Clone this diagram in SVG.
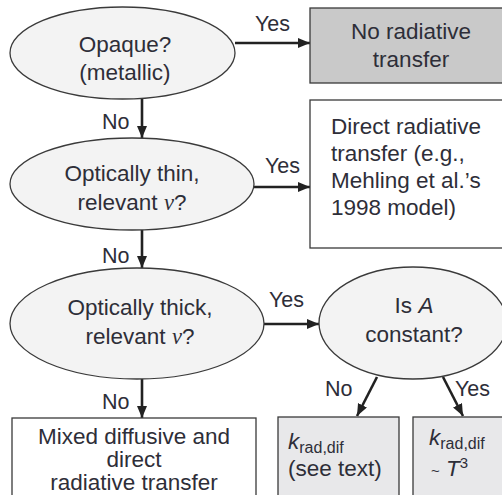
<svg xmlns="http://www.w3.org/2000/svg" width="502" height="495" viewBox="0 0 502 495">
<defs>
<style>
.el{fill:#f3f3f3;stroke:#3a3a3a;stroke-width:1.3}
.bx{stroke:#3a3a3a;stroke-width:1.3}
.t{font-family:"Liberation Sans",Arial,sans-serif;font-size:22.5px;fill:#2e2e38}
.lb{font-family:"Liberation Sans",Arial,sans-serif;font-size:21.5px;fill:#2e2e38}
.m{text-anchor:middle}
.g{font-family:"Liberation Serif","Times New Roman",serif;font-style:italic}
.c{stroke:#222;stroke-width:2.6;fill:none;marker-end:url(#ah)}
</style>
<marker id="ah" markerUnits="userSpaceOnUse" markerWidth="14" markerHeight="12" refX="12" refY="5" orient="auto">
<path d="M0,0 L12,5 L0,10 Z" fill="#222"/>
</marker>
</defs>
<rect width="502" height="495" fill="#fff"/>
<g id="connectors">
<line class="c" x1="235" y1="43" x2="310" y2="43"/>
<line class="c" x1="254" y1="187" x2="310" y2="187"/>
<line class="c" x1="264" y1="324" x2="319" y2="324"/>
<line class="c" x1="142" y1="99" x2="142" y2="138"/>
<line class="c" x1="142" y1="230" x2="142" y2="268"/>
<line class="c" x1="142" y1="379" x2="142" y2="418"/>
<line class="c" x1="377" y1="377" x2="357" y2="416"/>
<line class="c" x1="443" y1="377" x2="463" y2="416"/>
<text class="lb" x="255" y="31">Yes</text>
<text class="lb" x="265" y="173">Yes</text>
<text class="lb" x="269" y="307">Yes</text>
<text class="lb" x="102" y="129">No</text>
<text class="lb" x="102" y="263">No</text>
<text class="lb" x="102" y="409">No</text>
<text class="lb" x="325" y="396">No</text>
<text class="lb" x="455" y="396">Yes</text>
</g>
<g id="opaque">
<ellipse class="el" cx="122.5" cy="53" rx="112.5" ry="46"/>
<text class="t m" x="125" y="52">Opaque?</text>
<text class="t m" x="125" y="80">(metallic)</text>
</g>
<g id="no-radiative">
<rect class="bx" x="310" y="8" width="200" height="75" fill="#c9c9c9"/>
<text class="t m" x="411" y="39">No radiative</text>
<text class="t m" x="411" y="67">transfer</text>
</g>
<g id="thin">
<ellipse class="el" cx="132" cy="184" rx="122" ry="46"/>
<text class="t m" x="132" y="181">Optically thin,</text>
<text class="t m" x="132" y="210">relevant <tspan class="g">ν</tspan>?</text>
</g>
<g id="direct">
<rect class="bx" x="310" y="100" width="200" height="148" fill="#fff"/>
<text class="t" x="331" y="134">Direct radiative</text>
<text class="t" x="331" y="161">transfer (e.g.,</text>
<text class="t" x="331" y="188">Mehling et al.’s</text>
<text class="t" x="331" y="215">1998 model)</text>
</g>
<g id="thick">
<ellipse class="el" cx="137" cy="323.5" rx="127" ry="55.5"/>
<text class="t m" x="140" y="315">Optically thick,</text>
<text class="t m" x="140" y="344">relevant <tspan class="g">ν</tspan>?</text>
</g>
<g id="isA">
<ellipse class="el" cx="413" cy="323" rx="94" ry="56"/>
<text class="t m" x="414" y="313">Is <tspan font-style="italic">A</tspan></text>
<text class="t m" x="414" y="342">constant?</text>
</g>
<g id="mixed">
<rect class="bx" x="12" y="418" width="244" height="90" fill="#fff"/>
<text class="t m" x="134" y="444">Mixed diffusive and</text>
<text class="t m" x="134" y="467">direct</text>
<text class="t m" x="134" y="490">radiative transfer</text>
</g>
<g id="krad-text">
<rect class="bx" x="278" y="417" width="121" height="90" fill="#e8e8ea"/>
<text class="t" x="288" y="449"><tspan font-style="italic">k</tspan><tspan font-size="16" dy="4">rad,dif</tspan></text>
<text class="t" x="288" y="476">(see text)</text>
</g>
<g id="krad-T3">
<rect class="bx" x="413" y="417" width="100" height="90" fill="#e8e8ea"/>
<text class="t" x="429" y="445"><tspan font-style="italic">k</tspan><tspan font-size="16" dy="4">rad,dif</tspan></text>
<text class="t" x="431" y="476"><tspan font-size="15">~</tspan> <tspan font-style="italic">T</tspan><tspan font-size="15" dy="-8">3</tspan></text>
</g>
</svg>
